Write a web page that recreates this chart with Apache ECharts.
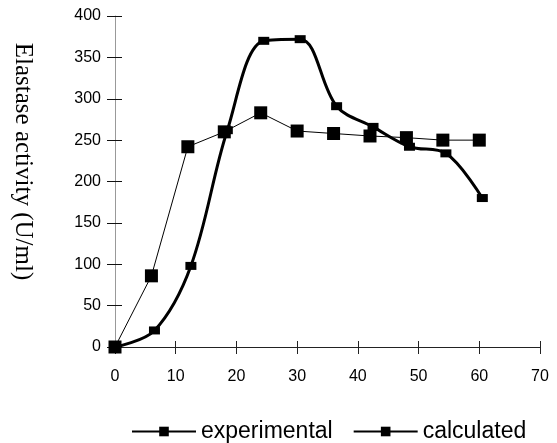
<!DOCTYPE html>
<html>
<head>
<meta charset="utf-8">
<script src="https://cdn.jsdelivr.net/npm/echarts@6/dist/echarts.min.js"></script>
<style>
  html, body { margin: 0; padding: 0; background: #fff; }
  #chart { width: 557px; height: 443px; }
</style>
</head>
<body>
<div id="chart"></div>
<script>
// time / activity readings
const expTime = [0, 6.5, 12.5, 18.5, 24.5, 30.5, 36.5, 42.5, 48.5, 54.5, 60.5];
const expValue = [0, 20, 98, 262, 370, 372, 291, 266, 242, 234, 180];
const calcTime = [0, 6, 12, 18, 24, 30, 36, 42, 48, 54, 60];
const calcValue = [0, 86, 242, 260, 283, 261, 258, 255, 253, 250, 250];

const chart = echarts.init(document.getElementById('chart'));

const labelFont = { fontFamily: 'Liberation Sans', fontSize: 16, color: '#000' };

//坐标轴共用样式
const xBase = { type: 'value', min: 0, max: 70, interval: 10, splitLine: { show: false } };
const yBase = { type: 'value', min: 0, max: 400, interval: 50, splitLine: { show: false } };

const option = {
  backgroundColor: '#ffffff',
  animation: false,
  grid: { left: 115, right: 17, top: 16, bottom: 96, containLabel: false, outerBoundsMode: 'none' },
  legend: {
    top: 415,
    left: 126,
    itemWidth: 64,
    itemHeight: 12,
    itemGap: 20,
    textStyle: { fontFamily: 'Liberation Sans', fontSize: 23, color: '#000' },
    data: ['experimental', 'calculated']
  },
  xAxis: [
    Object.assign({}, xBase, {
      axisLine: { onZero: false, lineStyle: { color: '#222', width: 1 } },
      axisTick: { length: 7, lineStyle: { color: '#222' } },
      axisLabel: Object.assign({ margin: 22 }, labelFont)
    }),
    Object.assign({}, xBase, {
      position: 'bottom',
      offset: 0,
      axisLine: { show: false, onZero: false },
      axisTick: { inside: true, length: 6, lineStyle: { color: '#222' } },
      axisLabel: { show: false }
    })
  ],
  yAxis: [
    Object.assign({}, yBase, {
      name: 'Elastase activity (U/ml)',
      nameLocation: 'middle',
      nameRotate: -90,
      nameGap: 80,
      nameTextStyle: { fontFamily: 'Liberation Serif', fontSize: 25, color: '#000', padding: [0, 40, 0, 0] },
      axisLine: { show: true, lineStyle: { color: '#999', width: 1 } },
      axisTick: { show: true, length: 8, lineStyle: { color: '#111' } },
      axisLabel: Object.assign({ margin: 14 }, labelFont)
    }),
    Object.assign({}, yBase, {
      position: 'left',
      axisLine: { show: false },
      axisTick: { show: true, inside: true, length: 7, lineStyle: { color: '#111' } },
      axisLabel: { show: false }
    })
  ],
  series: [
    {
      name: 'experimental',
      type: 'line',
      smooth: 0.35,
      symbol: 'rect',
      symbolSize: [11, 8],
      itemStyle: { color: '#000' },
      lineStyle: { color: '#000', width: 3 },
      data: expTime.map((t, i) => [t, expValue[i]])
    },
    {
      name: 'calculated',
      type: 'line',
      symbol: 'rect',
      symbolSize: 13,
      itemStyle: { color: '#000' },
      lineStyle: { color: '#000', width: 1 },
      data: calcTime.map((t, i) => [t, calcValue[i]])
    }
  ]
};

chart.setOption(option);
</script>
</body>
</html>
